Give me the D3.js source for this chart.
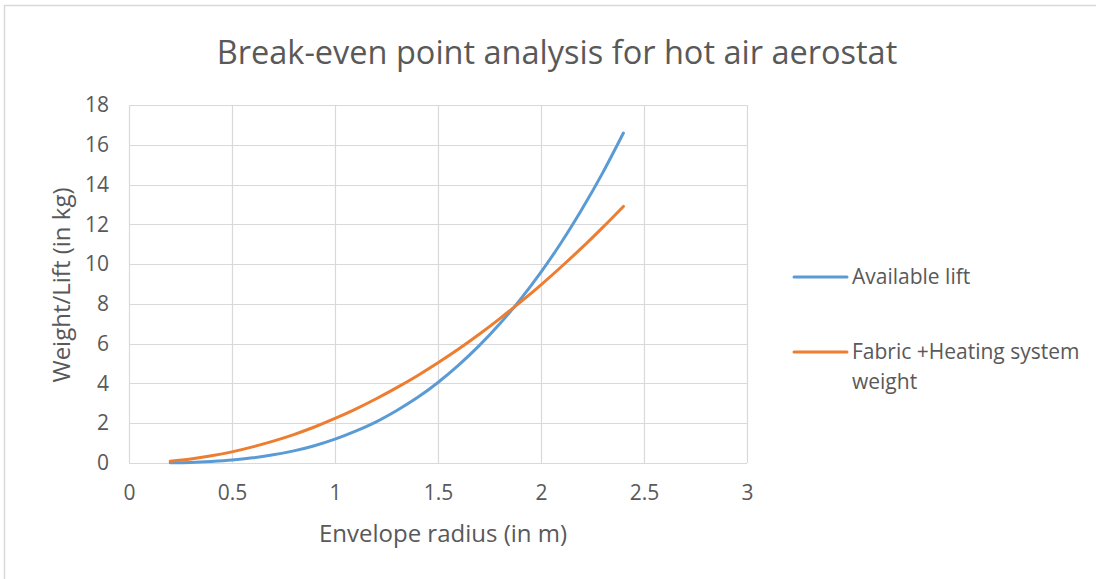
<!DOCTYPE html>
<html><head><meta charset="utf-8">
<script src="https://cdn.jsdelivr.net/npm/d3@7"></script>
<style>body{margin:0;background:#fff}svg{display:block}</style>
</head><body>
<script>
const radius = [0.2,0.3,0.4,0.5,0.6,0.7,0.8,0.9,1.0,1.1,1.2,1.3,1.4,1.5,1.6,1.7,1.8,1.9,2.0,2.1,2.2,2.3,2.4];
const availableLift = [0.01,0.03,0.08,0.15,0.26,0.41,0.61,0.87,1.2,1.6,2.07,2.64,3.29,4.05,4.92,5.9,7.0,8.23,9.6,11.11,12.78,14.6,16.59];
const fabricWeight = [0.09,0.2,0.36,0.56,0.81,1.1,1.43,1.81,2.24,2.71,3.23,3.79,4.39,5.04,5.73,6.47,7.26,8.09,8.96,9.88,10.84,11.85,12.9];
const xTicks = [0,0.5,1,1.5,2,2.5,3];
const yTicks = [0,2,4,6,8,10,12,14,16,18];
const seriesNames = ["Available lift","Fabric +Heating system weight"];
const colors = ["#5B9BD5","#ED7D31"];

const W=1096,H=579;
const svg=d3.select("body").append("svg").attr("width",W).attr("height",H);
const font="'Open Sans', sans-serif";
svg.append("rect").attr("x",4.5).attr("y",5.5).attr("width",W+10).attr("height",H+10)
  .attr("fill","#fff").attr("stroke","#d9d9d9").attr("stroke-width",1.5);

const x=d3.scaleLinear().domain([0,3]).range([129,747]);
const y=d3.scaleLinear().domain([0,18]).range([463,105]);

const g=svg.append("g");
g.selectAll(".gx").data(xTicks).join("line")
  .attr("x1",d=>Math.round(x(d))+0.5).attr("x2",d=>Math.round(x(d))+0.5)
  .attr("y1",y(18)).attr("y2",y(0)).attr("stroke","#d9d9d9").attr("stroke-width",1.2);
g.selectAll(".gy").data(yTicks).join("line")
  .attr("y1",d=>Math.round(y(d))+0.5).attr("y2",d=>Math.round(y(d))+0.5)
  .attr("x1",x(0)).attr("x2",x(3)).attr("stroke","#d9d9d9").attr("stroke-width",1.2);

const xa=svg.append("g").attr("transform",`translate(0,${y(0)})`)
  .call(d3.axisBottom(x).tickValues(xTicks).tickFormat(d3.format("")).tickSize(0).tickPadding(22));
const ya=svg.append("g").attr("transform",`translate(${x(0)},0)`)
  .call(d3.axisLeft(y).tickValues(yTicks).tickSize(0).tickPadding(20));
[xa,ya].forEach(a=>{a.select(".domain").remove();
  a.selectAll("text").attr("fill","#595959").attr("font-size",21).attr("font-family",font);});

const data=[availableLift,fabricWeight];
const line=d3.line().x((d,i)=>x(radius[i])).y(d=>y(d)).curve(d3.curveCatmullRom);
svg.selectAll(".s").data(data).join("path").attr("d",line).attr("fill","none")
  .attr("stroke",(d,i)=>colors[i]).attr("stroke-width",3).attr("stroke-linecap","round");

svg.append("text").attr("x",557).attr("y",64).attr("text-anchor","middle")
  .attr("font-family",font).attr("font-size",32.5).attr("fill","#595959")
  .text("Break-even point analysis for hot air aerostat");
svg.append("text").attr("x",443).attr("y",542).attr("text-anchor","middle")
  .attr("font-family",font).attr("font-size",24).attr("fill","#595959").text("Envelope radius (in m)");
svg.append("text").attr("transform","translate(70,285) rotate(-90)").attr("text-anchor","middle")
  .attr("font-family",font).attr("font-size",24).attr("fill","#595959").text("Weight/Lift (in kg)");

const leg=[{y:277,lines:["Available lift"]},{y:352,lines:["Fabric +Heating system","weight"]}];
leg.forEach((l,i)=>{
  svg.append("line").attr("x1",794).attr("x2",847).attr("y1",l.y).attr("y2",l.y)
    .attr("stroke",colors[i]).attr("stroke-width",3).attr("stroke-linecap","round");
  l.lines.forEach((t,j)=>svg.append("text").attr("x",852).attr("y",l.y+7+j*30)
    .attr("font-family",font).attr("font-size",21).attr("fill","#595959").text(t));
});
</script>
</body></html>
